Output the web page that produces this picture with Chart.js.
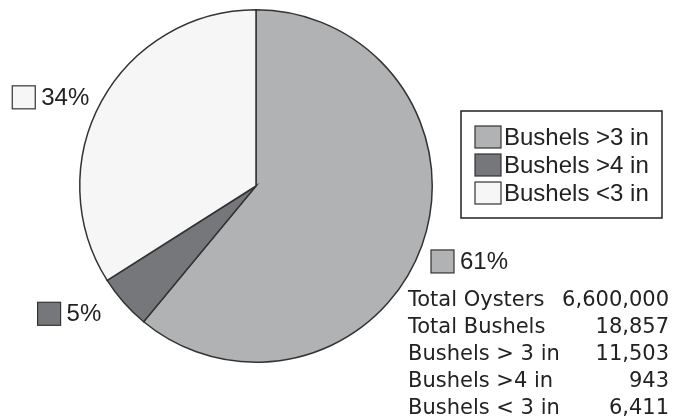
<!DOCTYPE html>
<html>
<head>
<meta charset="utf-8">
<script src="https://cdn.jsdelivr.net/npm/chart.js@4.4.0/dist/chart.umd.min.js"></script>
<style>
    html, body { margin: 0; padding: 0; background: #ffffff; }
    #wrap { width: 674px; height: 420px; position: relative; }
</style>
</head>
<body>
<div id="wrap"><canvas id="pie"></canvas></div>
<script>
// 数据
const categories = ['Bushels >3 in', 'Bushels >4 in', 'Bushels <3 in'];
const bushels = [11503, 943, 6411];
const percentLabels = ['61%', '5%', '34%'];
const sliceColors = ['#b1b2b4', '#76777a', '#f6f6f6'];

const tableLabels = ['Total Oysters', 'Total Bushels', 'Bushels > 3 in', 'Bushels >4 in', 'Bushels < 3 in'];
const tableValues = ['6,600,000', '18,857', '11,503', '943', '6,411'];

// 画百分比标签、图例框和右下角表格
const extrasPlugin = {
    id: 'extras',
    afterDraw(chart) {
        const ctx = chart.ctx;
        const arcs = chart.getDatasetMeta(0).data;
        const nudge = [[0, 3], [-12, 0], [0, 1]]; // 标签微调
        ctx.save();

        // 百分比标签
        ctx.font = '24px "Liberation Sans", Arial, sans-serif';
        ctx.textBaseline = 'middle';
        arcs.forEach((arc, i) => {
            const mid = (arc.startAngle + arc.endAngle) / 2;
            const r = arc.outerRadius + 14;
            const ax = arc.x + Math.cos(mid) * r + nudge[i][0];
            const ay = arc.y + Math.sin(mid) * r + (Math.cos(mid) > 0 ? 8 : 2) + nudge[i][1];
            const text = percentLabels[i];
            const tw = ctx.measureText(text).width;
            const box = 23, gap = 6;
            let bx;
            if (Math.cos(mid) > 0) {
                bx = ax - 4;
            } else {
                bx = ax - tw - gap - box;
            }
            ctx.fillStyle = sliceColors[i];
            ctx.fillRect(bx, ay - box / 2, box, box);
            ctx.strokeStyle = '#333333';
            ctx.lineWidth = 1.2;
            ctx.strokeRect(bx, ay - box / 2, box, box);
            ctx.fillStyle = '#222222';
            ctx.textAlign = 'left';
            ctx.fillText(text, bx + box + gap, ay + 1);
        });

        // 图例框
        const lx = 461, ly = 111, lw = 201, lh = 107;
        ctx.strokeStyle = '#222222';
        ctx.lineWidth = 1.5;
        ctx.strokeRect(lx, ly, lw, lh);
        ctx.font = '24px "Liberation Sans", Arial, sans-serif';
        categories.forEach((name, i) => {
            const y = 137 + i * 28;
            ctx.fillStyle = sliceColors[i];
            ctx.fillRect(475, y - 11, 26, 22);
            ctx.strokeStyle = '#333333';
            ctx.lineWidth = 1.2;
            ctx.strokeRect(475, y - 11, 26, 22);
            ctx.fillStyle = '#222222';
            ctx.textAlign = 'left';
            ctx.fillText(name, 504, y + 1);
        });

        // 表格
        ctx.font = '21px "DejaVu Sans", Verdana, sans-serif';
        tableLabels.forEach((name, i) => {
            const y = 301 + i * 27;
            ctx.fillStyle = '#222222';
            ctx.textAlign = 'left';
            ctx.fillText(name, 408, y);
            ctx.textAlign = 'right';
            ctx.fillText(tableValues[i], 669, y);
        });

        ctx.restore();
    }
};

const chart = new Chart(document.getElementById('pie').getContext('2d'), {
    type: 'pie',
    data: {
        labels: categories,
        datasets: [{
            data: bushels,
            backgroundColor: sliceColors,
            borderColor: '#333333',
            borderWidth: 1.5,
            borderJoinStyle: 'miter'
        }]
    },
    options: {
        responsive: true,
        maintainAspectRatio: false,
        animation: false,
        layout: {
            padding: { left: 79, right: 241, top: 9, bottom: 57 }
        },
        plugins: {
            legend: { display: false },
            tooltip: { enabled: false }
        }
    },
    plugins: [extrasPlugin]
});
</script>
</body>
</html>
